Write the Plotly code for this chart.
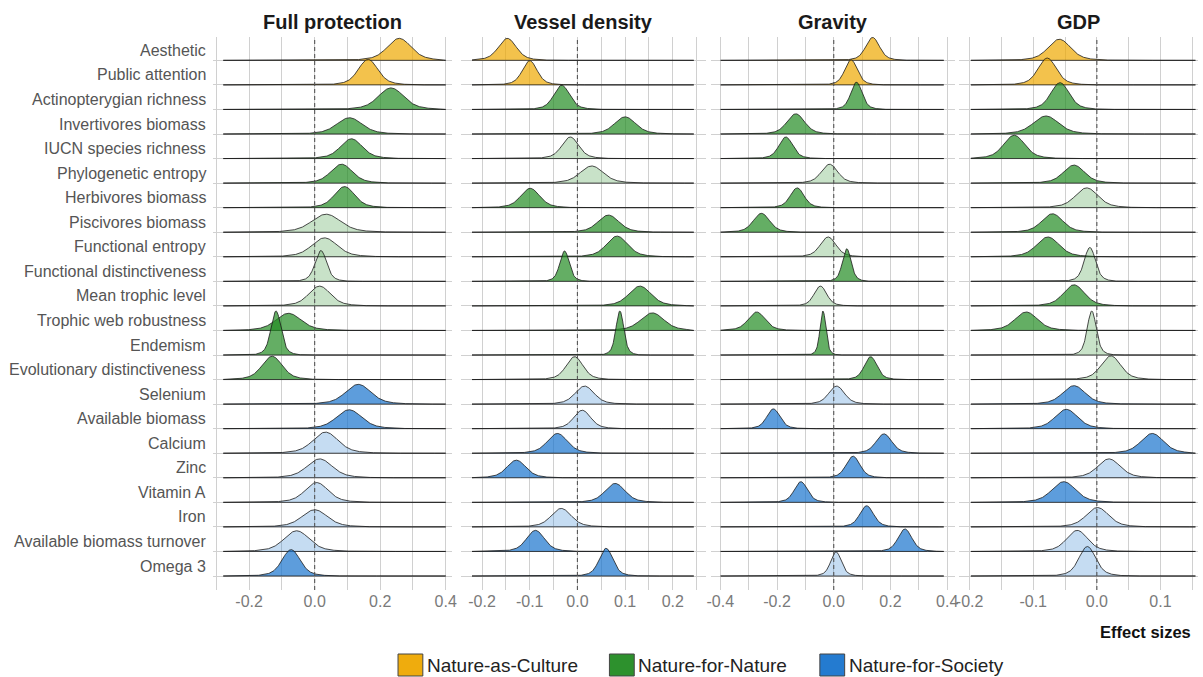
import numpy as np
import plotly.graph_objects as go

# ---------------- data ----------------
categories = ["Aesthetic", "Public attention", "Actinopterygian richness", "Invertivores biomass",
              "IUCN species richness", "Phylogenetic entropy", "Herbivores biomass", "Piscivores biomass",
              "Functional entropy", "Functional distinctiveness", "Mean trophic level",
              "Trophic web robustness", "Endemism", "Evolutionary distinctiveness", "Selenium",
              "Available biomass", "Calcium", "Zinc", "Vitamin A", "Iron",
              "Available biomass turnover", "Omega 3"]
groups = ["Nature-as-Culture"] * 2 + ["Nature-for-Nature"] * 12 + ["Nature-for-Society"] * 8

panel_titles = ["Full protection", "Vessel density", "Gravity", "GDP"]

# posterior effect-size distributions: peak location, spread, relative peak density, significant?
fp_mean = [0.258, 0.163, 0.233, 0.106, 0.112, 0.082, 0.091, 0.035, 0.030, 0.019, 0.015, -0.080,
           -0.118, -0.130, 0.133, 0.105, 0.033, 0.015, 0.006, 0.000, -0.055, -0.072]
fp_sd = [0.033, 0.027, 0.035, 0.035, 0.030, 0.030, 0.028, 0.040, 0.035, 0.016, 0.030, 0.035,
         0.014, 0.028, 0.035, 0.035, 0.035, 0.035, 0.032, 0.035, 0.035, 0.025]
fp_peak = [0.50, 0.58, 0.49, 0.37, 0.45, 0.43, 0.48, 0.41, 0.43, 0.70, 0.45, 0.39, 1.00, 0.53,
           0.45, 0.43, 0.48, 0.43, 0.45, 0.39, 0.47, 0.60]
fp_sig = [1, 1, 1, 1, 1, 1, 1, 0, 0, 0, 0, 1, 1, 1, 1, 1, 0, 0, 0, 0, 0, 1]

vd_mean = [-0.147, -0.100, -0.033, 0.100, -0.015, 0.030, -0.099, 0.065, 0.083, -0.027, 0.131, 0.157,
           0.089, -0.006, 0.015, 0.010, -0.042, -0.128, 0.079, -0.034, -0.088, 0.060]
vd_sd = [0.017, 0.014, 0.015, 0.020, 0.016, 0.022, 0.018, 0.020, 0.020, 0.009, 0.021, 0.022,
         0.0075, 0.016, 0.018, 0.016, 0.019, 0.018, 0.019, 0.019, 0.017, 0.013]
vd_peak = [0.50, 0.55, 0.55, 0.39, 0.49, 0.39, 0.44, 0.39, 0.47, 0.69, 0.45, 0.40, 1.00, 0.52,
           0.41, 0.42, 0.45, 0.40, 0.43, 0.42, 0.48, 0.63]
vd_sig = [1, 1, 1, 1, 0, 0, 1, 1, 1, 1, 1, 1, 1, 0, 0, 0, 1, 1, 1, 0, 1, 1]

gr_mean = [0.137, 0.061, 0.080, -0.134, -0.169, -0.015, -0.129, -0.255, -0.020, 0.046, -0.047, -0.272,
           -0.038, 0.130, 0.010, -0.213, 0.177, 0.068, -0.116, 0.116, 0.251, 0.008]
gr_sd = [0.022, 0.020, 0.018, 0.028, 0.022, 0.026, 0.022, 0.026, 0.025, 0.014, 0.020, 0.027,
         0.0095, 0.020, 0.025, 0.021, 0.025, 0.022, 0.021, 0.022, 0.022, 0.017]
gr_peak = [0.52, 0.57, 0.62, 0.46, 0.49, 0.43, 0.45, 0.43, 0.45, 0.74, 0.45, 0.42, 1.00, 0.52,
           0.41, 0.45, 0.44, 0.49, 0.47, 0.48, 0.51, 0.55]
gr_sig = [1, 1, 1, 1, 1, 0, 1, 1, 0, 1, 0, 1, 1, 1, 0, 1, 1, 1, 1, 1, 1, 0]

gdp_mean = [-0.059, -0.078, -0.058, -0.080, -0.130, -0.036, -0.016, -0.070, -0.077, -0.011, -0.036,
            -0.111, -0.008, 0.022, -0.036, -0.048, 0.087, 0.019, -0.052, 0.001, -0.031, -0.015]
gdp_sd = [0.016, 0.013, 0.013, 0.018, 0.015, 0.015, 0.016, 0.015, 0.016, 0.008, 0.015, 0.016,
          0.0065, 0.014, 0.016, 0.016, 0.016, 0.016, 0.017, 0.016, 0.015, 0.012]
gdp_peak = [0.48, 0.61, 0.61, 0.41, 0.53, 0.41, 0.45, 0.42, 0.45, 0.77, 0.48, 0.42, 1.00, 0.54,
            0.42, 0.44, 0.45, 0.43, 0.47, 0.44, 0.48, 0.67]
gdp_sig = [1, 1, 1, 1, 1, 1, 0, 1, 1, 0, 1, 1, 0, 0, 1, 1, 1, 0, 1, 0, 0, 0]

# x range covered by the density estimates in each panel
density_span = [(-0.279, 0.400), (-0.221, 0.244), (-0.399, 0.388), (-0.198, 0.155)]

# axis ticks
major_ticks = [[-0.2, 0.0, 0.2, 0.4], [-0.2, -0.1, 0.0, 0.1, 0.2], [-0.4, -0.2, 0.0, 0.2, 0.4],
               [-0.2, -0.1, 0.0, 0.1]]
major_labels = [["-0.2", "0.0", "0.2", "0.4"], ["-0.2", "-0.1", "0.0", "0.1", "0.2"],
                ["-0.4", "-0.2", "0.0", "0.2", "0.4"], ["-0.2", "-0.1", "0.0", "0.1"]]
minor_ticks = [[-0.3, -0.1, 0.1, 0.3], [-0.15, -0.05, 0.05, 0.15, 0.25],
               [-0.3, -0.1, 0.1, 0.3], [-0.15, -0.05, 0.05, 0.15]]

panel_data = [(fp_mean, fp_sd, fp_peak, fp_sig), (vd_mean, vd_sd, vd_peak, vd_sig),
              (gr_mean, gr_sd, gr_peak, gr_sig), (gdp_mean, gdp_sd, gdp_peak, gdp_sig)]

# ---------------- style ----------------
W, H = 1203, 677
group_rgb = {"Nature-as-Culture": (238, 168, 0), "Nature-for-Nature": (34, 139, 34),
             "Nature-for-Society": (24, 116, 205)}
panel_px = [(211, 451), (460, 707), (712, 958), (962, 1203)]
x_ranges = [(-0.309, 0.418), (-0.245, 0.269), (-0.434, 0.427), (-0.217, 0.159)]
PLOT_TOP, PLOT_BOT = 37, 590
ROW_SCALE = 1.79
n = len(categories)
y_range = [-0.57, n - 1 + 0.95]
FONT = "Liberation Sans, Arial, sans-serif"


def py(ypx):
    return (PLOT_BOT - ypx) / (PLOT_BOT - PLOT_TOP)


def ridge_shape(z):
    return 0.8 * np.exp(-0.5 * z ** 2) + 0.2 * np.exp(-0.5 * (z / 2.0) ** 2)


fig = go.Figure()
layout_axes = {}
shapes = []
annotations = []

for p in range(4):
    means, sds, peaks, sigs = panel_data[p]
    xa = "x" if p == 0 else f"x{p + 1}"
    ya = "y" if p == 0 else f"y{p + 1}"
    x = np.linspace(density_span[p][0], density_span[p][1], 500)
    for i in range(n):
        base = n - 1 - i
        dens = peaks[i] * ridge_shape((x - means[i]) / sds[i])
        yy = base + ROW_SCALE * dens
        r, g, b = group_rgb[groups[i]]
        alpha = 0.7 if sigs[i] else 0.25
        fig.add_trace(go.Scatter(
            x=np.concatenate([x, x[::-1]]),
            y=np.concatenate([yy, np.full_like(x, base)]),
            xaxis=xa, yaxis=ya, mode="lines", fill="toself",
            fillcolor=f"rgba({r},{g},{b},{alpha})",
            line=dict(color="#1a1a1a", width=0.8),
            hoverinfo="skip", showlegend=False))

    d0, d1 = panel_px[p]
    layout_axes["xaxis" if p == 0 else f"xaxis{p + 1}"] = dict(
        domain=[d0 / W, d1 / W], range=list(x_ranges[p]), anchor=ya,
        tickvals=major_ticks[p], ticktext=major_labels[p], ticks="",
        showgrid=True, gridcolor="#d0d0d0", gridwidth=1.3, zeroline=False,
        showline=False, tickfont=dict(family=FONT, size=16, color="#7a7a7a"),
        minor=dict(tickvals=minor_ticks[p], showgrid=True, gridcolor="#d0d0d0", gridwidth=1.3),
        fixedrange=True)
    layout_axes["yaxis" if p == 0 else f"yaxis{p + 1}"] = dict(
        domain=[0, 1], range=y_range, anchor=xa,
        tickvals=list(range(n)), showticklabels=False, ticks="",
        showgrid=True, gridcolor="#d0d0d0", gridwidth=1.3, zeroline=False, showline=False,
        fixedrange=True)

    shapes.append(dict(type="line", xref=xa, yref="paper", x0=0, x1=0, y0=0, y1=1,
                       line=dict(color="#555555", width=1.1, dash="4px,3px"), layer="above"))
    annotations.append(dict(text=f"<b>{panel_titles[p]}</b>", xref="paper", yref="paper",
                            x=(d0 + d1) / 2 / W, y=py(22), xanchor="center", yanchor="middle",
                            showarrow=False, font=dict(family=FONT, size=20, color="#1a1a1a")))

for i, cat in enumerate(categories):
    annotations.append(dict(text=cat, xref="paper", yref="y", x=206 / W, y=n - 1 - i, yshift=10,
                            xanchor="right", yanchor="middle", showarrow=False,
                            font=dict(family=FONT, size=16, color="#555555")))

annotations.append(dict(text="<b>Effect sizes</b>", xref="paper", yref="paper", x=1198 / W, y=py(632),
                        xanchor="right", yanchor="middle", showarrow=False,
                        font=dict(family=FONT, size=16.5, color="#111111")))

legend_groups = ["Nature-as-Culture", "Nature-for-Nature", "Nature-for-Society"]
legend_x = [397, 610, 822]
for gname, lx in zip(legend_groups, legend_x):
    r, g, b = group_rgb[gname]
    shapes.append(dict(type="rect", xref="paper", yref="paper", x0=lx / W, x1=(lx + 25) / W,
                       y0=py(676), y1=py(654), fillcolor=f"rgba({r},{g},{b},0.95)",
                       line=dict(color="#444444", width=1)))
    annotations.append(dict(text=gname, xref="paper", yref="paper", x=(lx + 27) / W, y=py(665),
                            xanchor="left", yanchor="middle", showarrow=False,
                            font=dict(family=FONT, size=19, color="#222222")))

fig.update_layout(width=W, height=H, margin=dict(l=0, r=0, t=PLOT_TOP, b=H - PLOT_BOT),
                  paper_bgcolor="white", plot_bgcolor="white", showlegend=False,
                  shapes=shapes, annotations=annotations, **layout_axes)

fig.write_html("out.html", config={"displayModeBar": False},
               post_script="document.body.style.margin='0px';document.body.style.overflow='hidden';")
